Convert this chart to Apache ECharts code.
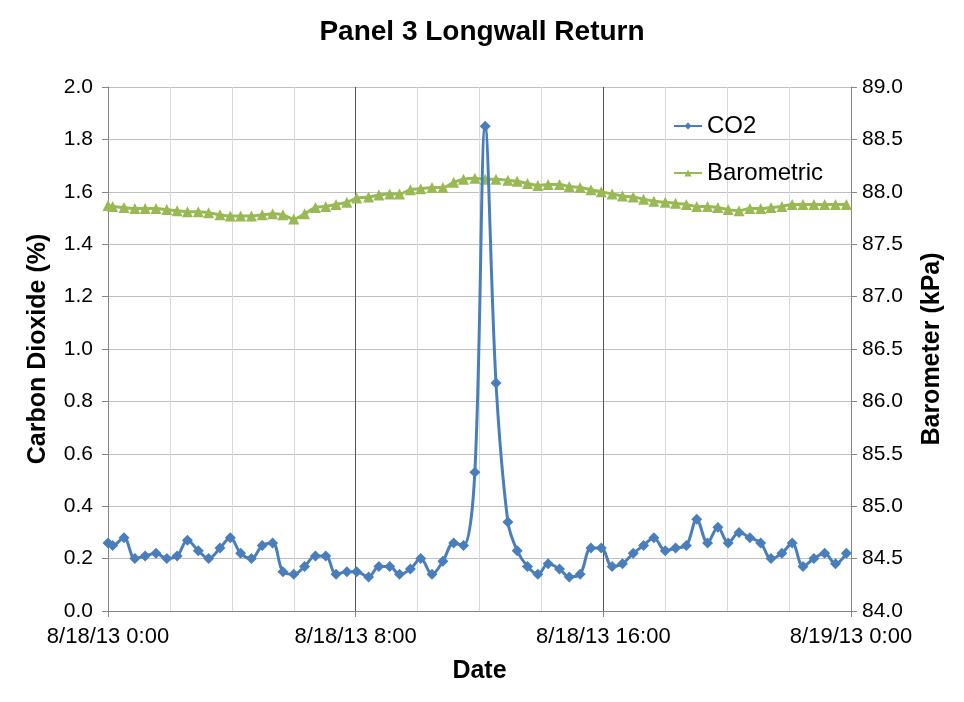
<!DOCTYPE html>
<html>
<head>
<meta charset="utf-8">
<script src="https://cdn.jsdelivr.net/npm/echarts@6/dist/echarts.min.js"></script>
<style>
html,body{margin:0;padding:0;background:#fff;}
#chart{width:964px;height:702px;}
</style>
</head>
<body>
<div id="chart"></div>
<script>
// Sample times on 8/18/13 (hours:minutes)
var times = ["0:00","0:09","0:31","0:52","1:12","1:33","1:54","2:14","2:34","2:55",
  "3:15","3:37","3:57","4:17","4:38","4:59","5:19","5:39","6:00","6:21",
  "6:42","7:02","7:22","7:43","8:02","8:25","8:45","9:06","9:25","9:46",
  "10:06","10:28","10:49","11:10","11:29","11:51","12:11","12:32","12:55","13:13",
  "13:33","13:53","14:13","14:35","14:54","15:15","15:36","15:56","16:17","16:37",
  "16:58","17:18","17:38","18:00","18:20","18:41","19:01","19:22","19:42","20:02",
  "20:23","20:44","21:05","21:25","21:46","22:06","22:27","22:48","23:09","23:30","23:51"];
// Carbon dioxide (%)
var co2 = [0.26,0.25,0.28,0.20,0.21,0.22,0.20,0.21,0.27,0.23,
  0.20,0.24,0.28,0.22,0.20,0.25,0.26,0.15,0.14,0.17,
  0.21,0.21,0.14,0.15,0.15,0.13,0.17,0.17,0.14,0.16,
  0.20,0.14,0.19,0.26,0.25,0.53,1.85,0.87,0.34,0.23,
  0.17,0.14,0.18,0.16,0.13,0.14,0.24,0.24,0.17,0.18,
  0.22,0.25,0.28,0.23,0.24,0.25,0.35,0.26,0.32,0.26,
  0.30,0.28,0.26,0.20,0.22,0.26,0.17,0.20,0.22,0.18,0.22];
// Barometric pressure (kPa)
var baro = [87.87,87.86,87.85,87.84,87.84,87.84,87.83,87.82,87.81,87.81,
  87.80,87.78,87.77,87.77,87.77,87.78,87.79,87.78,87.74,87.79,
  87.85,87.86,87.88,87.90,87.94,87.95,87.97,87.98,87.98,88.02,
  88.03,88.04,88.04,88.09,88.12,88.13,88.12,88.12,88.11,88.10,
  88.08,88.06,88.07,88.07,88.05,88.04,88.02,88.00,87.98,87.96,
  87.95,87.93,87.91,87.90,87.89,87.88,87.86,87.86,87.85,87.83,
  87.82,87.84,87.84,87.85,87.86,87.88,87.88,87.88,87.88,87.88,87.88];
var xTickLabels = {0:"8/18/13 0:00", 8:"8/18/13 8:00", 16:"8/18/13 16:00", 24:"8/19/13 0:00"};

function toHours(s){ var p = s.split(":"); return +p[0] + (+p[1])/60; }
var co2Data = times.map(function(t,i){ return [toHours(t), co2[i]]; });
var baroData = times.map(function(t,i){ return [toHours(t), baro[i]]; });

var FONT = "Liberation Sans, Arial, sans-serif";
var chart = echarts.init(document.getElementById('chart'));
chart.setOption({
  backgroundColor: '#fff',
  animation: false,
  title: {
    text: 'Panel 3 Longwall Return',
    left: 'center', top: 18, padding: 0,
    textStyle: {fontFamily: FONT, fontSize: 28, fontWeight: 'bold', color: '#000'}
  },
  legend: {
    data: ['CO2','Barometric'],
    orient: 'vertical', left: 673, top: 114, padding: 0,
    itemWidth: 28, itemHeight: 9, itemGap: 23,
    textStyle: {fontFamily: FONT, fontSize: 24, color: '#000'}
  },
  grid: {left: 108, right: 113, top: 87, bottom: 91},
  xAxis: {
    type: 'value', min: 0, max: 24, interval: 8,
    name: 'Date', nameLocation: 'middle', nameGap: 48,
    nameTextStyle: {fontFamily: FONT, fontSize: 25, fontWeight: 'bold', color: '#000'},
    axisLine: {show: true, lineStyle: {color: '#868686', width: 1}},
    axisTick: {show: true, length: 6, lineStyle: {color: '#868686'}},
    axisLabel: {fontFamily: FONT, fontSize: 22, color: '#000', margin: 15,
      formatter: function(v){ return xTickLabels[v] || ''; }},
    splitLine: {show: true, lineStyle: {color: '#555', width: 1}},
    minorTick: {show: false, splitNumber: 4},
    minorSplitLine: {show: true, lineStyle: {color: '#d9d9d9', width: 1}}
  },
  yAxis: [{
    type: 'value', min: 0, max: 2, interval: 0.2, position: 'left',
    name: 'Carbon Dioxide (%)', nameLocation: 'middle', nameGap: 57, nameRotate: 90,
    nameTextStyle: {fontFamily: FONT, fontSize: 25, fontWeight: 'bold', color: '#000'},
    axisLine: {show: true, lineStyle: {color: '#868686'}},
    axisTick: {show: true, length: 6, lineStyle: {color: '#868686'}},
    axisLabel: {fontFamily: FONT, fontSize: 21, color: '#000', margin: 15,
      formatter: function(v){ return v.toFixed(1); }},
    splitLine: {show: true, lineStyle: {color: '#bfbfbf', width: 1}}
  },{
    type: 'value', min: 84, max: 89, interval: 0.5, position: 'right',
    name: 'Barometer (kPa)', nameLocation: 'middle', nameGap: 69, nameRotate: 90,
    nameTextStyle: {fontFamily: FONT, fontSize: 25, fontWeight: 'bold', color: '#000'},
    axisLine: {show: true, lineStyle: {color: '#868686'}},
    axisTick: {show: true, length: 6, lineStyle: {color: '#868686'}},
    axisLabel: {fontFamily: FONT, fontSize: 21, color: '#000', margin: 11,
      formatter: function(v){ return v.toFixed(1); }},
    splitLine: {show: false}
  }],
  series: [{
    name: 'CO2', type: 'line', yAxisIndex: 0, z: 4,
    data: co2Data, smooth: 0.35,
    symbol: 'diamond', symbolSize: 11,
    lineStyle: {color: '#4a7ebb', width: 3},
    itemStyle: {color: '#4a7ebb'}
  },{
    name: 'Barometric', type: 'line', yAxisIndex: 1, z: 3,
    data: baroData, smooth: 0.35,
    symbol: 'triangle', symbolSize: 11,
    lineStyle: {color: '#98b954', width: 3},
    itemStyle: {color: '#98b954'}
  }]
});
</script>
</body>
</html>
